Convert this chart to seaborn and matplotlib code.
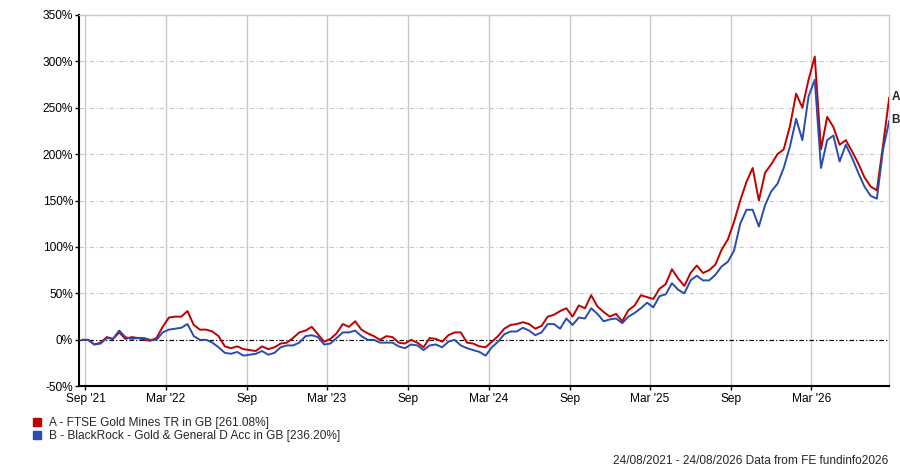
import numpy as np
import pandas as pd
import matplotlib
matplotlib.use("Agg")
import matplotlib.pyplot as plt
import seaborn as sns
from matplotlib.lines import Line2D


# data, one point roughly every two weeks (cumulative % growth)
start_date = "2021-08-24"
end_date = "2026-08-24"

ftse_gold_mines = [
    0, 0, -5, -3, 3, 1, 8, 1, 3, 2,
    0, -1, 2, 14, 24, 25, 25, 31, 16, 11,
    11, 9, 4, -7, -9, -7, -10, -11, -12, -7,
    -10, -8, -4, -3, 2, 8, 10, 14, 6, -2,
    1, 7, 17, 14, 20, 11, 7, 4, 0, 4,
    3, -3, -4, 0, -3, -8, 2, 1, -2, 5,
    8, 8, -3, -4, -7, -8, -2, 4, 12, 16,
    17, 19, 17, 12, 15, 25, 27, 31, 34, 25,
    37, 34, 48, 36, 30, 25, 28, 20, 32, 37,
    48, 46, 44, 55, 60, 76, 66, 58, 72, 80,
    72, 75, 81, 97, 108, 127, 150, 170, 185, 150,
    180, 189, 200, 205, 230, 265, 250, 280, 305, 205,
    240, 229, 210, 215, 203, 190, 175, 165, 161, 210,
    261.08,
]

blackrock_gold = [
    0, 0, -5, -4, 2, 1, 10, 3, 1, 2,
    2, 0, 0, 8, 11, 12, 13, 17, 4, 0,
    0, -3, -8, -14, -15, -13, -17, -16, -15, -12,
    -16, -14, -8, -6, -6, -3, 4, 5, 3, -5,
    -4, 2, 8, 8, 10, 4, 0, 0, -3, -3,
    -3, -7, -9, -5, -6, -11, -6, -5, -8, -2,
    0, -6, -9, -11, -13, -17, -8, -2, 6, 9,
    9, 13, 10, 5, 8, 17, 17, 12, 23, 16,
    24, 23, 34, 28, 20, 22, 23, 18, 25, 29,
    34, 40, 35, 47, 49, 61, 54, 50, 64, 69,
    64, 64, 70, 79, 84, 96, 125, 140, 140, 122,
    145, 160, 168, 185, 208, 238, 215, 262, 280, 185,
    215, 220, 192, 210, 196, 180, 165, 155, 152, 205,
    236.20,
]

series_names = [
    "A - FTSE Gold Mines TR in GB [261.08%]",
    "B - BlackRock - Gold & General D Acc in GB [236.20%]",
]
end_labels = ["A", "B"]
colours = ["#c00000", "#2a4bb0"]

tick_dates = ["2021-09-01", "2022-03-01", "2022-09-01", "2023-03-01", "2023-09-01",
              "2024-03-01", "2024-09-01", "2025-03-01", "2025-09-01", "2026-03-01"]
tick_labels = ["Sep '21", "Mar '22", "Sep", "Mar '23", "Sep",
               "Mar '24", "Sep", "Mar '25", "Sep", "Mar '26"]
y_ticks = [-50, 0, 50, 100, 150, 200, 250, 300, 350]

footer = "24/08/2021 - 24/08/2026 Data from FE fundinfo2026"

fsize = 8.6

# long format for seaborn
dates = pd.date_range(start_date, end_date, periods=len(ftse_gold_mines))
n = len(dates)
df = pd.DataFrame({
    "date": np.tile(dates, 2),
    "value": ftse_gold_mines + blackrock_gold,
    "series": [series_names[0]] * n + [series_names[1]] * n,
})

sns.set_style("white")
plt.rcParams["font.family"] = ["Liberation Sans", "DejaVu Sans"]

fig = plt.figure(figsize=(9, 4.67), dpi=100)
ax = fig.add_axes([0.0881, 0.1728, 0.9, 0.7957])

sns.lineplot(data=df, x="date", y="value", hue="series", palette=colours,
             hue_order=series_names, linewidth=1.4, ax=ax, legend=False, zorder=3)

# grid: solid verticals, dash-dot horizontals, black dash-dot zero line
ax.set_axisbelow(True)
ax.xaxis.grid(True, color="#c8c8c8", linewidth=1)
ax.yaxis.grid(True, color="#c8c8c8", linewidth=0.8, linestyle=(0, (4, 2, 1, 2)))
ax.axhline(0, color="black", linewidth=0.8, linestyle=(0, (4, 2, 1, 2)), zorder=2)

ax.set_xlim(pd.Timestamp("2021-08-18"), pd.Timestamp(end_date))
ax.set_ylim(-50, 350)
ax.set_xticks(pd.to_datetime(tick_dates))
ax.set_xticklabels(tick_labels)
ax.set_yticks(y_ticks)
ax.set_yticklabels([f"{v}%" for v in y_ticks])
ax.tick_params(bottom=True, left=True, length=3, width=1, colors="black",
               labelsize=fsize, pad=1.5)
ax.set_xlabel("")
ax.set_ylabel("")

for side in ["left", "bottom"]:
    ax.spines[side].set_color("black")
    ax.spines[side].set_linewidth(1.5)
for side in ["top", "right"]:
    ax.spines[side].set_color("#c8c8c8")
    ax.spines[side].set_linewidth(1)

# A / B tags at the end of each line
for lbl, vals, c in zip(end_labels, [ftse_gold_mines, blackrock_gold], colours):
    ax.annotate(lbl, xy=(dates[-1], vals[-1]), xytext=(1.5, 0), textcoords="offset points",
                ha="left", va="center", fontsize=fsize, fontweight="bold",
                annotation_clip=False)

handles = [Line2D([], [], marker="s", linestyle="none", markersize=6, color=c) for c in colours]
fig.legend(handles, series_names, loc="upper left", bbox_to_anchor=(0.036, 0.107),
           frameon=False, fontsize=fsize, handletextpad=0.55, labelspacing=0.1,
           handlelength=0.8, borderaxespad=0, borderpad=0)

fig.text(888 / 900, 1 - 460.7 / 467, footer, ha="right", va="center", fontsize=fsize)

fig.savefig("out.png", dpi=100)
